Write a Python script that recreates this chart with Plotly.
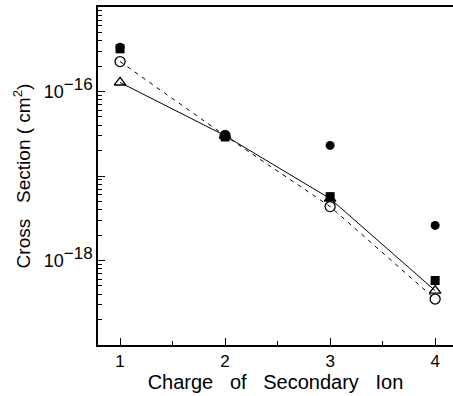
import plotly.graph_objects as go

charge = [1, 2, 3, 4]
filled_circle = [3.35e-16, 3.1e-17, 2.3e-17, 2.6e-18]
filled_square = [3.2e-16, 2.9e-17, 5.7e-18, 5.8e-19]
open_circle = [2.26e-16, 3.0e-17, 4.35e-18, 3.5e-19]
triangle = [1.28e-16, 3.0e-17, 5.4e-18, 4.4e-19]

decades = [1e-15, 1e-16, 1e-17, 1e-18, 1e-19]
sup = lambda s: "10<sup><span style='font-size:17px'>" + s + "</span></sup>"
decade_labels = ["", sup("\u221216"), "", sup("\u221218"), ""]

minor_vals = [m * d for d in [1e-19, 1e-18, 1e-17, 1e-16] for m in range(2, 10)]

fig = go.Figure()
fig.add_trace(go.Scatter(x=charge, y=open_circle, mode="lines+markers",
                         line=dict(color="black", width=1, dash="4px,5px"),
                         marker=dict(symbol="circle-open", size=10, color="black", line=dict(width=1.3))))
fig.add_trace(go.Scatter(x=charge, y=triangle, mode="lines+markers",
                         line=dict(color="black", width=1),
                         marker=dict(symbol="triangle-up-open", size=10, color="black", line=dict(width=1.4))))
fig.add_trace(go.Scatter(x=charge, y=filled_square, mode="markers",
                         marker=dict(symbol="square", size=9, color="black")))
fig.add_trace(go.Scatter(x=charge, y=filled_circle, mode="markers",
                         marker=dict(symbol="circle", size=9, color="black")))

font = "Liberation Sans, Arial, Helvetica, sans-serif"
fig.update_layout(
    width=453, height=396,
    margin=dict(l=98, r=0, t=7, b=51),
    plot_bgcolor="white", paper_bgcolor="white",
    showlegend=False,
    font=dict(family=font, color="black", size=15),
)
fig.update_xaxes(range=[0.79, 4.17], tickvals=charge, ticktext=[str(c) for c in charge],
                 ticks="inside", ticklen=7, tickcolor="black", showline=True, linecolor="black",
                 linewidth=1.5, mirror=True, showgrid=False, zeroline=False,
                 tickfont=dict(size=17),
                 minor=dict(tickvals=[1.5, 2.5, 3.5], ticks="inside", ticklen=4, tickcolor="black"),
                 title=dict(text="Charge&nbsp;&nbsp; of&nbsp;&nbsp; Secondary&nbsp;&nbsp; Ion",
                            font=dict(size=20), standoff=4))
fig.update_yaxes(type="log", range=[-19, -15], tickvals=decades, ticktext=decade_labels,
                 ticks="inside", ticklen=7, tickcolor="black", showline=True, linecolor="black",
                 linewidth=1.5, showgrid=False, zeroline=False,
                 tickfont=dict(size=18),
                 minor=dict(tickvals=minor_vals, ticks="inside", ticklen=4, tickcolor="black"),
                 title=dict(text="Cross&nbsp;&nbsp; Section ( cm<sup>2</sup>)", font=dict(size=19), standoff=8))

fig.write_html("out.html", config={"displayModeBar": False},
               post_script="document.body.style.margin='0';")
